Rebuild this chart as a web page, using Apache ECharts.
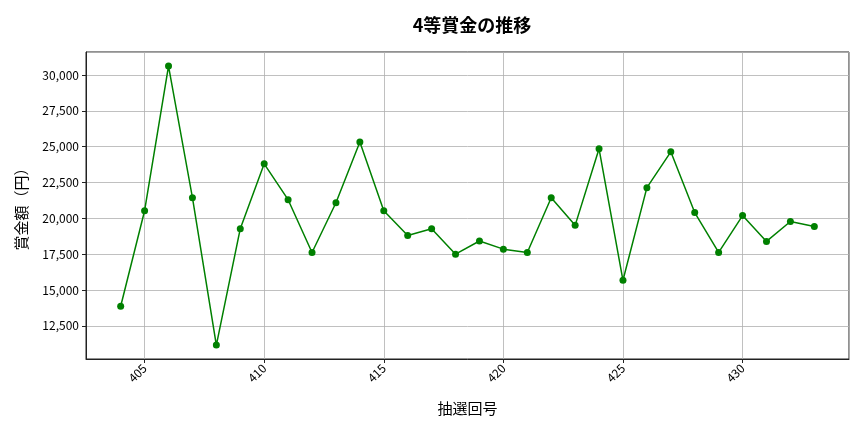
<!DOCTYPE html>
<html>
<head>
<meta charset="utf-8">
<title>4等賞金の推移</title>
<script src="https://cdn.jsdelivr.net/npm/echarts@6/dist/echarts.min.js"></script>
<style>
  html, body { margin: 0; padding: 0; background: #fff; }
  #chart { width: 864px; height: 432px; }
</style>
</head>
<body>
<div id="chart"></div>
<script>
  // 抽選回号
  var rounds = [404, 405, 406, 407, 408, 409, 410, 411, 412, 413, 414, 415, 416, 417, 418,
                419, 420, 421, 422, 423, 424, 425, 426, 427, 428, 429, 430, 431, 432, 433];
  // 賞金額（円）
  var prizes = [13870, 20530, 30620, 21440, 11160, 19280, 23800, 21300, 17620, 21090, 25330, 20530, 18800, 19280, 17500,
                18420, 17850, 17620, 21440, 19510, 24850, 15680, 22140, 24640, 20400, 17620, 20190, 18390, 19780, 19430];

  var font = '"Noto Sans CJK JP", "Noto Sans", sans-serif';

  var chart = echarts.init(document.getElementById('chart'));
  var option = {
    animation: false,
    backgroundColor: '#fff',
    title: {
      text: '4等賞金の推移',
      left: 467, top: 11, textAlign: 'center',
      textStyle: { fontFamily: font, fontSize: 18, fontWeight: 'bold', color: '#000' }
    },
    grid: {
      left: 86, right: 15, top: 52, bottom: 73,
      show: true, borderColor: '#222', borderWidth: 1
    },
    xAxis: {
      type: 'value',
      min: 402.55, max: 434.45,
      minInterval: 5, maxInterval: 5,
      name: '抽選回号',
      nameLocation: 'middle', nameGap: 42,
      nameTextStyle: { fontFamily: font, fontSize: 15, color: '#000' },
      axisLine: { show: true, onZero: false, lineStyle: { color: '#222' } },
      axisTick: { show: true, length: 4, lineStyle: { color: '#222' } },
      axisLabel: {
        rotate: 45, fontFamily: font, fontSize: 12, color: '#000', margin: 7,
        showMinLabel: false, showMaxLabel: false
      },
      splitLine: { show: true, lineStyle: { color: '#b0b0b0', width: 0.8 } }
    },
    yAxis: {
      type: 'value',
      min: 10190, max: 31600,
      minInterval: 2500, maxInterval: 2500,
      name: '賞金額（円）',
      nameLocation: 'middle', nameGap: 57, nameRotate: 90,
      nameTextStyle: { fontFamily: font, fontSize: 15, color: '#000' },
      axisLine: { show: true, lineStyle: { color: '#222' } },
      axisTick: { show: true, length: 4, lineStyle: { color: '#222' } },
      axisLabel: {
        fontFamily: font, fontSize: 12, color: '#000', margin: 7,
        showMinLabel: false, showMaxLabel: false,
        formatter: function (v) { return v.toLocaleString('en-US'); }
      },
      splitLine: { show: true, lineStyle: { color: '#b0b0b0', width: 0.8 } }
    },
    series: [{
      type: 'line',
      data: rounds.map(function (r, i) { return [r, prizes[i]]; }),
      symbol: 'circle', symbolSize: 7,
      lineStyle: { color: '#008000', width: 1.5 },
      itemStyle: { color: '#008000' }
    }]
  };
  chart.setOption(option);
</script>
</body>
</html>
